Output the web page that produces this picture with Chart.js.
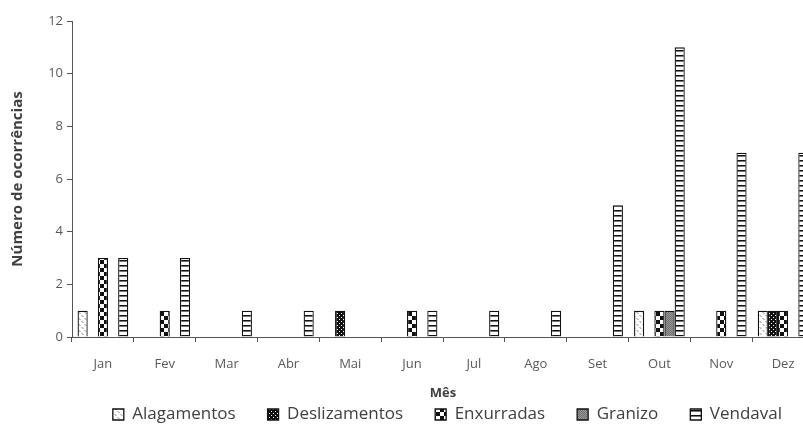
<!DOCTYPE html>
<html>
<head>
<meta charset="utf-8">
<script src="https://cdn.jsdelivr.net/npm/chart.js@4/dist/chart.umd.min.js"></script>
<style>
  html, body { margin: 0; padding: 0; background: #fff; overflow: hidden; width: 803px; height: 426px; }
  #wrap { position: absolute; left: 0; top: 0; width: 886px; height: 426px; }
</style>
</head>
<body>
<div id="wrap"><canvas id="c" width="886" height="426"></canvas></div>
<script>
// Monthly occurrences by event type
const meses = ['Jan','Fev','Mar','Abr','Mai','Jun','Jul','Ago','Set','Out','Nov','Dez'];
const alagamentos   = [1,0,0,0,0,0,0,0,0,1,0,1];
const deslizamentos = [0,0,0,0,1,0,0,0,0,0,0,1];
const enxurradas    = [3,1,0,0,0,1,0,0,0,1,1,1];
const granizo       = [0,0,0,0,0,0,0,0,0,1,0,0];
const vendaval      = [3,3,1,1,0,1,1,1,5,11,7,7];
const yTicks = [0,2,4,6,8,10,12];

// Hatch fills, one tile per series
function tile(w, h, draw) {
  const cv = document.createElement('canvas');
  cv.width = w; cv.height = h;
  const g = cv.getContext('2d');
  draw(g);
  return document.getElementById('c').getContext('2d').createPattern(cv, 'repeat');
}
const fillAlag = tile(6, 6, g => {
  g.fillStyle = '#fff'; g.fillRect(0,0,6,6);
  g.fillStyle = '#c4c4c4';
  g.fillRect(0,0,2,1); g.fillRect(1,1,2,1); g.fillRect(3,3,2,1); g.fillRect(4,4,2,1);
});
const fillDesl = tile(4, 4, g => {
  g.fillStyle = '#111'; g.fillRect(0,0,4,4);
  g.fillStyle = '#fff'; g.fillRect(1,1,1,1); g.fillRect(3,3,1,1);
});
const fillEnx = tile(8, 8, g => {
  g.fillStyle = '#fff'; g.fillRect(0,0,8,8);
  g.fillStyle = '#111'; g.fillRect(0,0,4,4); g.fillRect(4,4,4,4);
});
const fillGran = tile(2, 2, g => {
  g.fillStyle = '#9a9a9a'; g.fillRect(0,0,2,2);
  g.fillStyle = '#6e6e6e'; g.fillRect(0,0,1,1); g.fillRect(1,1,1,1);
});
const fillVend = tile(8, 5, g => {
  g.fillStyle = '#fff'; g.fillRect(0,0,8,5);
  g.fillStyle = '#111'; g.fillRect(0,0,8,1);
  g.fillStyle = '#777'; g.fillRect(0,1,8,1);
});

const FONT = "'Open Sans', 'Noto Sans', sans-serif";
const AXIS = '#555';
const mk = (label, data, fill) => ({
  label, data, backgroundColor: fill, borderColor: '#111', borderWidth: 1.3,
  categoryPercentage: 0.82, barPercentage: 1.0
});

new Chart(document.getElementById('c'), {
  type: 'bar',
  data: {
    labels: meses,
    datasets: [
      mk('Alagamentos', alagamentos, fillAlag),
      mk('Deslizamentos', deslizamentos, fillDesl),
      mk('Enxurradas', enxurradas, fillEnx),
      mk('Granizo', granizo, fillGran),
      mk('Vendaval', vendaval, fillVend)
    ]
  },
  options: {
    responsive: false,
    animation: false,
    layout: { padding: { left: 0, right: 72, top: 21, bottom: -7 } },
    plugins: {
      tooltip: { enabled: false },
      legend: {
        position: 'bottom',
        align: 'end',
        labels: {
          font: { family: FONT, size: 17 },
          color: '#404040',
          boxWidth: 11, boxHeight: 11,
          padding: 32
        }
      }
    },
    scales: {
      x: {
        offset: true,
        afterFit: s => { s.height = 37; },
        grid: { display: true, offset: true, drawOnChartArea: false, drawTicks: true, tickLength: 5, color: AXIS },
        border: { color: AXIS, width: 1 },
        ticks: { font: { family: FONT, size: 13 }, color: '#595959', padding: 14 },
        title: { display: true, text: 'Mês', font: { family: FONT, size: 13, weight: 'bold' }, color: '#404040', padding: { top: 0, bottom: -27 } }
      },
      y: {
        min: 0, max: 12,
        afterBuildTicks: s => { s.ticks = yTicks.map(v => ({ value: v })); },
        afterFit: s => { s.width = 72; },
        grid: { display: true, drawOnChartArea: false, drawTicks: true, tickLength: 5, color: AXIS },
        border: { color: AXIS, width: 1 },
        ticks: { font: { family: FONT, size: 13 }, color: '#595959', padding: 4 },
        title: { display: true, text: 'Número de ocorrências', font: { family: FONT, size: 15, weight: 'bold' }, color: '#404040', padding: { top: 9, bottom: 0 } }
      }
    }
  }
});
</script>
</body>
</html>
